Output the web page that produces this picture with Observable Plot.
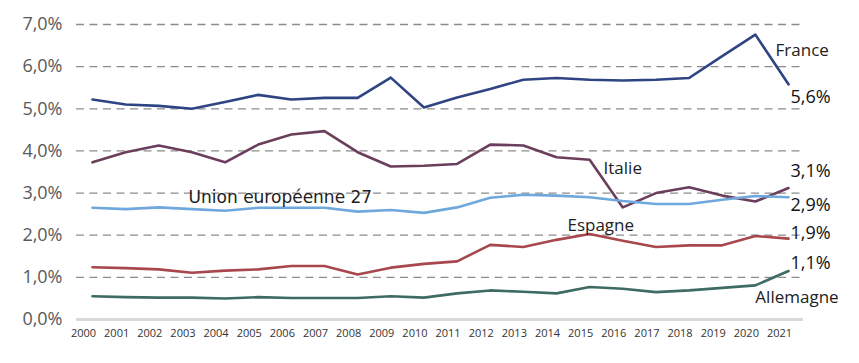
<!DOCTYPE html>
<html>
<head>
<meta charset="utf-8">
<script src="https://cdn.jsdelivr.net/npm/d3@7"></script>
<script src="https://cdn.jsdelivr.net/npm/@observablehq/plot@0.6"></script>
<style>
  html, body { margin: 0; padding: 0; background: #fff; }
  #chart svg { display: block; }
</style>
</head>
<body>
<div id="chart"></div>
<script>
const years = d3.range(2000, 2022);
const yTicks = [0, 1, 2, 3, 4, 5, 6, 7];

const france    = [5.22, 5.10, 5.07, 5.00, 5.16, 5.33, 5.22, 5.26, 5.26, 5.74, 5.03, 5.27, 5.47, 5.69, 5.73, 5.69, 5.67, 5.69, 5.73, 6.25, 6.76, 5.58];
const italie    = [3.73, 3.97, 4.13, 3.97, 3.73, 4.15, 4.39, 4.47, 3.97, 3.63, 3.65, 3.69, 4.15, 4.13, 3.85, 3.79, 2.66, 3.00, 3.14, 2.94, 2.80, 3.12];
const ue27      = [2.65, 2.62, 2.66, 2.62, 2.58, 2.65, 2.65, 2.65, 2.56, 2.60, 2.53, 2.66, 2.89, 2.96, 2.94, 2.90, 2.81, 2.74, 2.74, 2.84, 2.93, 2.90];
const espagne   = [1.24, 1.22, 1.19, 1.11, 1.16, 1.19, 1.27, 1.27, 1.07, 1.23, 1.32, 1.38, 1.77, 1.72, 1.89, 2.03, 1.87, 1.72, 1.76, 1.76, 1.98, 1.92];
const allemagne = [0.55, 0.53, 0.52, 0.52, 0.50, 0.53, 0.51, 0.51, 0.51, 0.55, 0.52, 0.62, 0.69, 0.66, 0.62, 0.77, 0.73, 0.65, 0.69, 0.75, 0.81, 1.15];

const seriesNames  = ["France", "Italie", "Union européenne 27", "Espagne", "Allemagne"];
const seriesValues = [france, italie, ue27, espagne, allemagne];
const seriesColors = ["#2f4483", "#6b3e5c", "#6fa8dc", "#a8474c", "#3e6b63"];
const endLabels    = ["5,6%", "3,1%", "2,9%", "1,9%", "1,1%"];

const rows = seriesNames.flatMap((name, i) =>
  years.map((year, j) => ({ name, year, value: seriesValues[i][j] })));

const ends = seriesNames.map((name, i) => ({
  name, year: years[years.length - 1], value: seriesValues[i][years.length - 1], label: endLabels[i]
}));

const endDy = { "France": 13, "Italie": -17, "Union européenne 27": 8, "Espagne": -5, "Allemagne": -8 };

const nameLabels = [
  { name: "France", year: 2020.61, value: 6.38, wide: false },
  { name: "Italie", year: 2015.42, value: 3.58, wide: false },
  { name: "Union européenne 27", year: 2002.9, value: 2.89, wide: true },
  { name: "Espagne", year: 2014.33, value: 2.23, wide: false },
  { name: "Allemagne", year: 2020.0, value: 0.52, wide: false }
];

const fmtPct = d => d.toFixed(1).replace(".", ",") + "%";
const font = "'Open Sans', 'Noto Sans', sans-serif";
const wideFont = "'DejaVu Sans', sans-serif";

const chart = Plot.plot({
  width: 859,
  height: 363,
  marginLeft: 76,
  marginRight: 56,
  marginTop: 24,
  marginBottom: 44,
  insetLeft: 16,
  insetRight: 15,
  style: { fontFamily: font, background: "#fff" },
  x: { domain: [2000, 2021], label: null },
  y: { domain: [0, 7], label: null },
  color: { domain: seriesNames, range: seriesColors },
  marks: [
    Plot.ruleY(yTicks.filter(d => d > 0), { stroke: "#8c8c8c", strokeWidth: 1.3, strokeDasharray: "8,5.5" }),
    Plot.ruleY([0], { stroke: "#d9d9d9", strokeWidth: 3 }),
    Plot.axisY(yTicks, { tickSize: 0, tickPadding: 14, tickFormat: fmtPct, fontSize: 18, fill: "#595959", label: null }),
    Plot.axisX(years, { tickSize: 0, tickPadding: 10, tickFormat: d => String(d), fontSize: 11, fill: "#333", dx: -9, label: null }),
    Plot.line(rows, { x: "year", y: "value", z: "name", stroke: "name", strokeWidth: 2.6, strokeLinejoin: "round", curve: "linear" }),
    Plot.text(nameLabels.filter(d => !d.wide), { x: "year", y: "value", text: "name", textAnchor: "start", fontSize: 17, fill: "#222" }),
    Plot.text(nameLabels.filter(d => d.wide), { x: "year", y: "value", text: "name", textAnchor: "start", fontSize: 17, fill: "#222", fontFamily: wideFont }),
    ...ends.map(e => Plot.text([e], { x: "year", y: "value", text: "label", dx: 22, dy: endDy[e.name], textAnchor: "middle", fontSize: 18, fill: "#111" }))
  ]
});

document.getElementById("chart").appendChild(chart);
</script>
</body>
</html>
